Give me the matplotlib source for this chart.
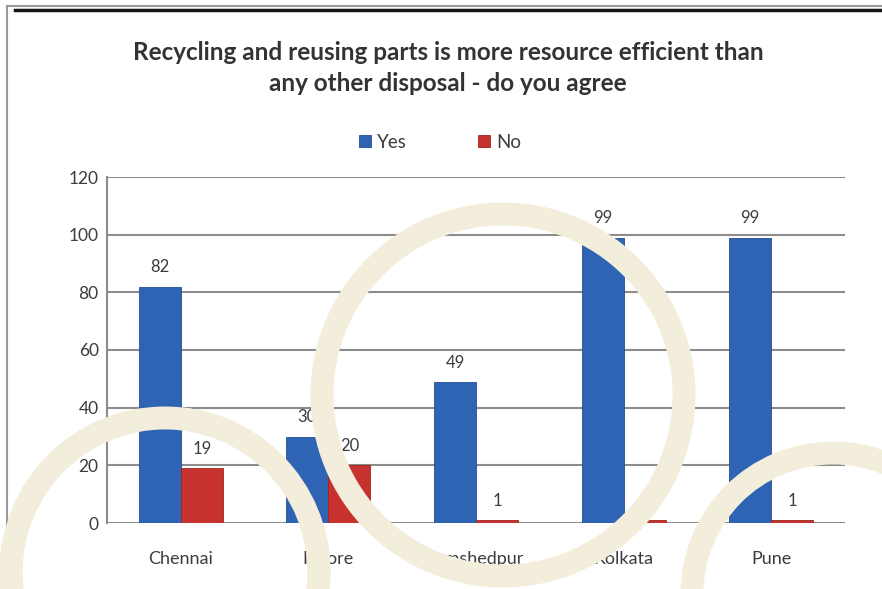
import numpy as np
import matplotlib
matplotlib.use('Agg')
import matplotlib.pyplot as plt
from matplotlib.patches import Ellipse, Rectangle
from matplotlib.lines import Line2D

# survey answers per city
cities = ['Chennai', 'Indore', 'Jamshedpur', 'Kolkata', 'Pune']
yes_vals = [82, 30, 49, 99, 99]
no_vals = [19, 20, 1, 1, 1]
y_ticks = [0, 20, 40, 60, 80, 100, 120]

title = ('Recycling and reusing parts is more resource efficient than\n'
         'any other disposal - do you agree')

plt.rcParams['font.family'] = ['Lato', 'DejaVu Sans']

W, H = 882, 589
fig = plt.figure(figsize=(W / 100, H / 100), dpi=100)
fig.patch.set_facecolor('white')

ax = fig.add_axes([107 / W, 66 / H, (845 - 107) / W, (523 - 177) / H])

x = np.arange(len(cities))
bw = 0.285
ax.bar(x - bw / 2, yes_vals, bw, color='#2F63B3', edgecolor='#214f93',
       linewidth=0.6, zorder=3, label='Yes')
ax.bar(x + bw / 2, no_vals, bw, color='#C8322E', edgecolor='#9c2420',
       linewidth=0.6, zorder=3, label='No')

text_col = '#3c3c3c'
for i in range(len(cities)):
    ax.annotate(str(yes_vals[i]), (x[i] - bw / 2, yes_vals[i]), xytext=(0, 8),
                textcoords='offset points', ha='center', va='bottom',
                fontsize=12, color=text_col)
    ax.annotate(str(no_vals[i]), (x[i] + bw / 2, no_vals[i]), xytext=(0, 8),
                textcoords='offset points', ha='center', va='bottom',
                fontsize=12, color=text_col)

ax.set_xlim(-0.5, len(cities) - 0.5)
ax.set_ylim(0, 120)
ax.set_yticks(y_ticks)
ax.set_xticks(x)
ax.set_xticklabels(cities)
ax.tick_params(axis='both', length=0, labelsize=12.5, colors=text_col)
ax.tick_params(axis='x', labelsize=13, pad=20)
ax.tick_params(axis='y', pad=6)
ax.grid(axis='y', color='#8c8c8c', linewidth=1.5, zorder=0)
for s in ['top', 'right', 'bottom']:
    ax.spines[s].set_visible(False)
ax.spines['left'].set_color('#8c8c8c')
ax.spines['left'].set_linewidth(1.5)
ax.set_facecolor('none')

fig.text(448 / W, 1 - 68 / H, title, ha='center', va='center', fontsize=17.5,
         fontweight='bold', color='#333333', linespacing=1.45)

fig.legend(loc='center', bbox_to_anchor=(440 / W, 1 - 142 / H), ncol=2,
           frameon=False, fontsize=13.5, handlelength=0.65, handleheight=0.65,
           columnspacing=3.8, handletextpad=0.3, labelcolor=text_col)

# frame lines of the scanned page
fig.add_artist(Line2D([7 / W, 7 / W], [0, 1 - 6 / H], color='#9a9a9a', lw=1.5))
fig.add_artist(Line2D([7 / W, 1], [1 - 6 / H, 1 - 6 / H], color='#9a9a9a', lw=1.5))
fig.add_artist(Line2D([15 / W, 1], [1 - 9.5 / H, 1 - 9.5 / H], color='#161616', lw=2.5))

# cream decorative rings over the scan
ring_col = '#F3EEDB'


def ring(cx, cy, r):
    return Ellipse((cx / W, 1 - cy / H), 2 * r / W, 2 * r / H, fill=False,
                   edgecolor=ring_col, lw=16.5, transform=fig.transFigure,
                   clip_on=False)


# left ring sits behind the Chennai bar but over the Indore bar
low = ring(165, 572, 154)
low.set_zorder(2.5)
ax.add_patch(low)
high = ring(165, 572, 154)
high.set_zorder(10)
fig.add_artist(high)
high.set_clip_path(Rectangle((228 / W, 0), 1, 1, transform=fig.transFigure))

for cx, cy, r in [(503, 395, 181), (833, 594, 141)]:
    p = ring(cx, cy, r)
    p.set_zorder(10)
    fig.add_artist(p)

fig.savefig('out.png', dpi=100)
